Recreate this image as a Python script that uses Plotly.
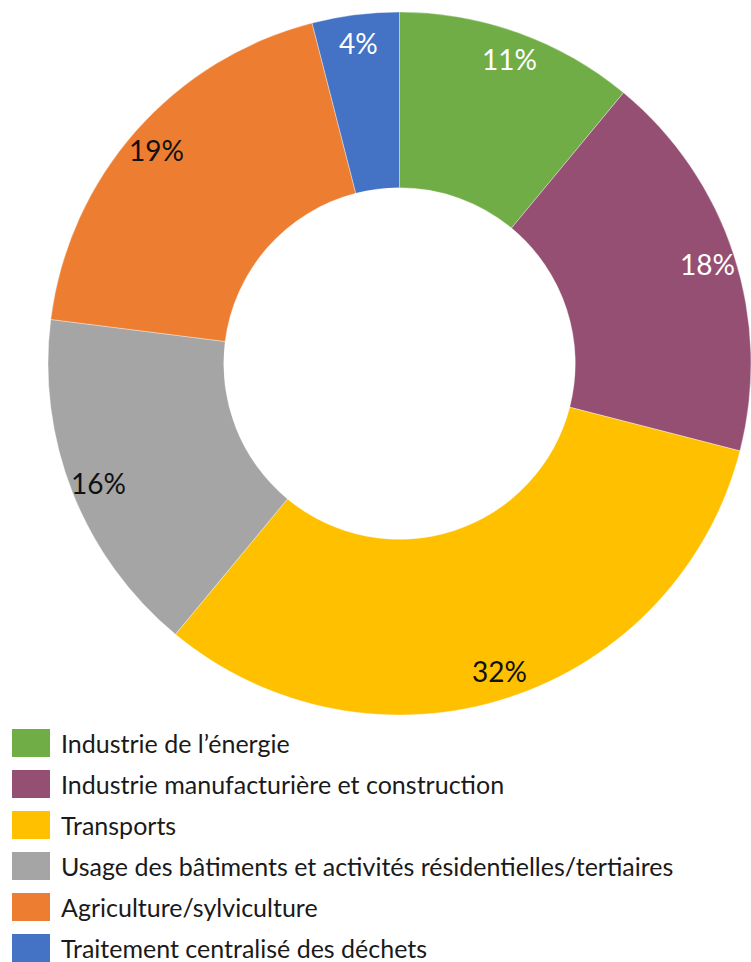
import math
import plotly.graph_objects as go

# Emission shares by sector (percent)
sectors = [
    "Industrie de l\u2019énergie",
    "Industrie manufacturière et construction",
    "Transports",
    "Usage des bâtiments et activités résidentielles/tertiaires",
    "Agriculture/sylviculture",
    "Traitement centralisé des déchets",
]
shares = [11, 18, 32, 16, 19, 4]
colors = ["#70AD47", "#954F72", "#FFC000", "#A5A5A5", "#ED7D31", "#4472C4"]
label_colors = ["#FFFFFF", "#FFFFFF", "#111111", "#111111", "#111111", "#FFFFFF"]

W, H = 751, 962
FONT = "Lato, 'Open Sans', sans-serif"

# donut placement (pixels)
px_left, px_right = 48, 751
px_top, px_bottom = 10, 717

fig = go.Figure(
    go.Pie(
        labels=sectors,
        values=shares,
        hole=0.5,
        sort=False,
        direction="clockwise",
        rotation=0,
        marker=dict(colors=colors, line=dict(color="rgba(255,255,255,0.6)", width=0.6)),
        textinfo="none",
        hoverinfo="label+percent",
        showlegend=False,
        domain=dict(
            x=[px_left / W, px_right / W],
            y=[1 - px_bottom / H, 1 - px_top / H],
        ),
    )
)

# percentage labels placed near the outer rim of each slice
cx = (px_left + px_right) / 2
cy = (px_top + px_bottom) / 2
R = min(px_right - px_left, px_bottom - px_top) / 2
r_lab = 0.92 * R
total = sum(shares)
cum = 0
annotations = []
for val, col in zip(shares, label_colors):
    mid = (cum + val / 2) / total * 2 * math.pi
    cum += val
    x = cx + r_lab * math.sin(mid)
    y = cy - r_lab * math.cos(mid)
    annotations.append(
        dict(
            x=x / W, y=1 - y / H, xref="paper", yref="paper",
            text=f"{round(val / total * 100)}%", showarrow=False,
            font=dict(family=FONT, size=28, color=col),
            xanchor="center", yanchor="middle",
        )
    )

# legend drawn as colour swatches with text
shapes = []
leg_y0, leg_step = 743, 41
for i, (name, col) in enumerate(zip(sectors, colors)):
    yc = leg_y0 + i * leg_step
    shapes.append(
        dict(
            type="rect", xref="paper", yref="paper",
            x0=12 / W, x1=50 / W, y0=1 - (yc + 14) / H, y1=1 - (yc - 14) / H,
            fillcolor=col, line=dict(width=0),
        )
    )
    annotations.append(
        dict(
            x=59 / W, y=1 - yc / H, xref="paper", yref="paper",
            text=name, showarrow=False, xanchor="left", yanchor="middle",
            font=dict(family=FONT, size=25, color="#1a1a1a"),
        )
    )

fig.update_layout(
    width=W, height=H,
    margin=dict(l=0, r=0, t=0, b=0),
    paper_bgcolor="white", plot_bgcolor="white",
    annotations=annotations, shapes=shapes,
)

fig.write_html("out.html")
